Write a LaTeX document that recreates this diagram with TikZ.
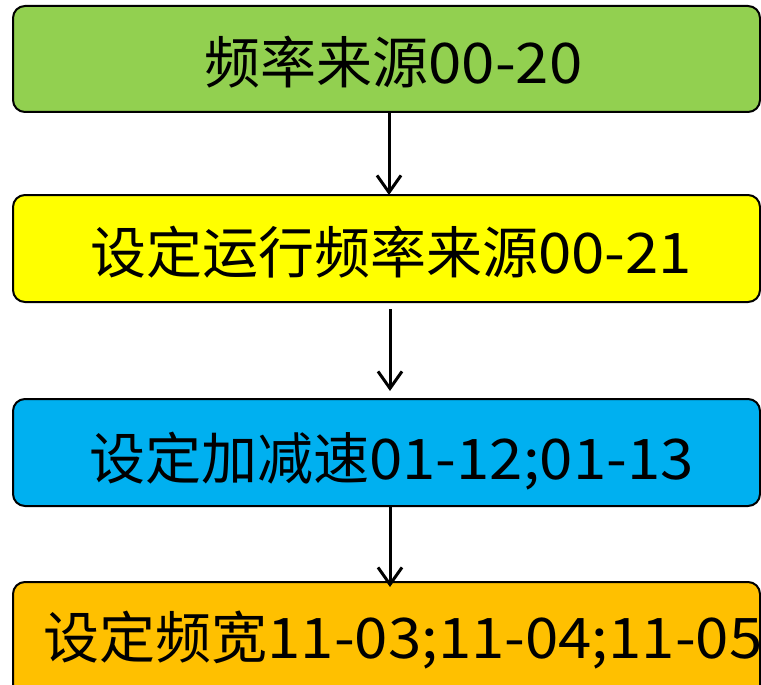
\documentclass[tikz,border=0pt]{standalone}
\usepackage{fontspec}
\setmainfont{Noto Sans CJK SC}
\newfontfamily\latw{Noto Sans CJK SC}[FakeStretch=1.07]
\newcommand{\lw}[1]{{\latw #1}}
\usetikzlibrary{arrows.meta}
\definecolor{cgreen}{HTML}{92D050}
\definecolor{cyellow}{HTML}{FFFF00}
\definecolor{cblue}{HTML}{00B0F0}
\definecolor{corange}{HTML}{FFC000}
\begin{document}
\begin{tikzpicture}[x=1pt,y=-1pt,
  box/.style={draw=black,line width=2pt,rounded corners=12pt,rectangle,
    minimum width=747pt,inner sep=0pt,outer sep=0pt},
  txt/.style={anchor=base,inner sep=0pt,font=\fontsize{56pt}{60pt}\selectfont},
  arr/.style={line width=3pt,-{Straight Barb[length=17pt,width=24pt,line width=3pt]}}]
\useasboundingbox (0,0) rectangle (761,685);
\node[box,fill=cgreen,minimum height=106pt] (b1) at (386.5,59) {};
\node[box,fill=cyellow,minimum height=107pt] (b2) at (386.5,248.5) {};
\node[box,fill=cblue,minimum height=107pt] (b3) at (386.5,452.5) {};
\node[box,fill=corange,minimum height=120pt] (b4) at (386.5,642) {};
\node[txt] (t1) at (393.5,84) {频率来源\lw{00-20}};
\node[txt] (t2) at (391,273) {设定运行频率来源\lw{00-21}};
\node[txt] (t3) at (391.5,479) {设定加减速\lw{01-12;01-13}};
\node[txt] (t4) at (403,658) {设定频宽\lw{11-03;11-04;11-05}};
\coordinate (ax1) at (389,0);
\coordinate (ax2) at (390,0);
\draw[arr] (b1.south -| ax1) -- (b2.north -| ax1);
\draw[arr] ([yshift=-7pt]b2.south -| ax2) -- ([yshift=8pt]b3.north -| ax2);
\draw[arr] (b3.south -| ax2) -- ([yshift=-5pt]b4.north -| ax2);
\end{tikzpicture}
\end{document}
